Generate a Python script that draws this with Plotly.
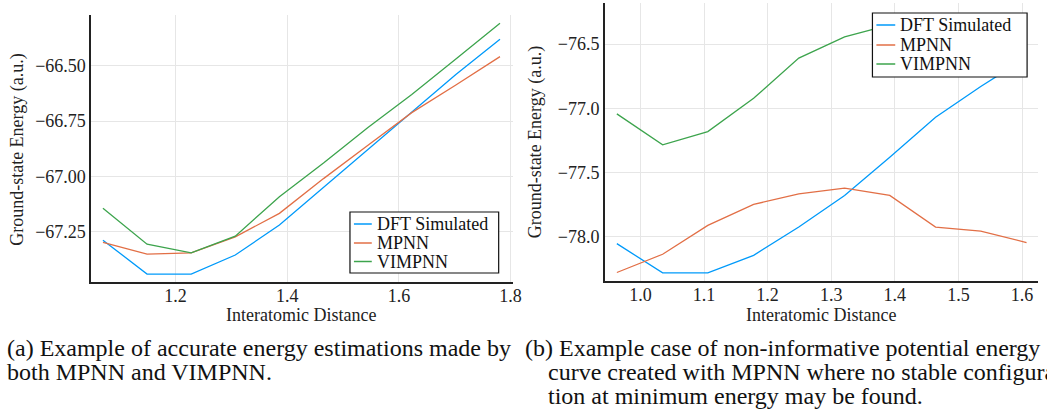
import plotly.graph_objects as go

# ---- data: panel (a) ----
xa = [1.070, 1.149, 1.228, 1.307, 1.386, 1.465, 1.544, 1.623, 1.702, 1.781]
dft_a = [-67.288, -67.441, -67.441, -67.355, -67.220, -67.050, -66.880, -66.710, -66.540, -66.381]
mpnn_a = [-67.298, -67.351, -67.345, -67.273, -67.167, -67.010, -66.860, -66.712, -66.587, -66.459]
vimpnn_a = [-67.144, -67.306, -67.345, -67.270, -67.092, -66.940, -66.780, -66.630, -66.470, -66.308]

# ---- data: panel (b) ----
xb = [0.963, 1.035, 1.106, 1.178, 1.249, 1.321, 1.392, 1.464, 1.535, 1.607]
dft_b = [-78.053, -78.281, -78.281, -78.144, -77.924, -77.678, -77.380, -77.070, -76.830, -76.604]
mpnn_b = [-78.278, -78.136, -77.911, -77.748, -77.665, -77.621, -77.678, -77.924, -77.955, -78.045]
vimpnn_b = [-77.043, -77.284, -77.181, -76.922, -76.609, -76.443, -76.350, -76.275, -76.270, -76.288]

series_names = ["DFT Simulated", "MPNN", "VIMPNN"]
colors = ["#009AFA", "#E26F46", "#3DA44D"]

ticks_a_x = [1.2, 1.4, 1.6, 1.8]
ticks_a_y = [-67.25, -67.00, -66.75, -66.50]
ticks_b_x = [1.0, 1.1, 1.2, 1.3, 1.4, 1.5, 1.6]
ticks_b_y = [-78.0, -77.5, -77.0, -76.5]

W, H = 1047, 410
FONT = "Liberation Serif, Times New Roman, Times, serif"

fig = go.Figure()
for name, col, ys in zip(series_names, colors, [dft_a, mpnn_a, vimpnn_a]):
    fig.add_trace(go.Scatter(x=xa, y=ys, mode="lines", name=name, showlegend=False,
                             line=dict(color=col, width=1.3),
                             xaxis="x", yaxis="y"))
for name, col, ys in zip(series_names, colors, [dft_b, mpnn_b, vimpnn_b]):
    fig.add_trace(go.Scatter(x=xb, y=ys, mode="lines", name=name, showlegend=False,
                             line=dict(color=col, width=1.3),
                             xaxis="x2", yaxis="y2"))

def px_x(p):
    return p / W

def px_y(p):
    return 1 - p / H

axis_common = dict(showline=True, linecolor="#222", linewidth=1.5,
                   showgrid=True, gridcolor="#e6e6e6", gridwidth=1,
                   zeroline=False, ticks="", mirror=False,
                   tickfont=dict(family=FONT, size=18, color="#222"))

fig.update_layout(
    width=W, height=H,
    margin=dict(l=0, r=0, t=0, b=0),
    paper_bgcolor="white", plot_bgcolor="white",
    font=dict(family=FONT, color="#111"),
    xaxis=dict(domain=[px_x(92), px_x(517)], range=[1.049, 1.8035],
               tickvals=ticks_a_x, ticktext=[f"{v:.1f}" for v in ticks_a_x],
               anchor="y", ticklabelstandoff=-3, **axis_common),
    yaxis=dict(domain=[px_y(282), px_y(15)], range=[-67.477, -66.271],
               tickvals=ticks_a_y, ticktext=[f"\u2212{abs(v):.2f}" for v in ticks_a_y],
               anchor="x", **axis_common),
    xaxis2=dict(domain=[px_x(610), 1.0], range=[0.944, 1.625],
                tickvals=ticks_b_x, ticktext=[f"{v:.1f}" for v in ticks_b_x],
                anchor="y2", ticklabelstandoff=-3, **axis_common),
    yaxis2=dict(domain=[px_y(281), px_y(3)], range=[-78.344, -76.18],
                tickvals=ticks_b_y, ticktext=[f"\u2212{abs(v):.1f}" for v in ticks_b_y],
                anchor="x2", **axis_common),
    showlegend=False,
)

shapes = []
ann = []

# manual legends (box, sample lines, labels), positioned in pixels
def add_legend(box, rows, line_x0, line_x1, text_x):
    x0, y0, x1, y1 = box
    shapes.append(dict(type="rect", xref="paper", yref="paper",
                       x0=px_x(x0), x1=px_x(x1), y0=px_y(y1), y1=px_y(y0),
                       line=dict(color="#111", width=1.2), fillcolor="white", layer="above"))
    for name, col, ry in zip(series_names, colors, rows):
        shapes.append(dict(type="line", xref="paper", yref="paper",
                           x0=px_x(line_x0), x1=px_x(line_x1), y0=px_y(ry), y1=px_y(ry),
                           line=dict(color=col, width=1.5), layer="above"))
        ann.append(dict(text=name, x=px_x(text_x), y=px_y(ry), xref="paper", yref="paper",
                        showarrow=False, xanchor="left", yanchor="middle",
                        font=dict(family=FONT, size=18, color="#111")))

add_legend((353, 212, 503, 273), [224, 243, 261.5], 357, 375, 378)
add_legend((880, 13, 1036, 77), [25, 45, 64], 884, 903, 906)

# axis titles
ann.append(dict(text="Interatomic Distance", x=px_x(304), y=px_y(315), xref="paper", yref="paper",
                showarrow=False, font=dict(family=FONT, size=18, color="#222"), xanchor="center", yanchor="middle"))
ann.append(dict(text="Interatomic Distance", x=px_x(828), y=px_y(315), xref="paper", yref="paper",
                showarrow=False, font=dict(family=FONT, size=18, color="#222"), xanchor="center", yanchor="middle"))
ann.append(dict(text="Ground-state Energy (a.u.)", x=px_x(17), y=px_y(149), xref="paper", yref="paper",
                showarrow=False, textangle=-90, font=dict(family=FONT, size=18, color="#222"),
                xanchor="center", yanchor="middle"))
ann.append(dict(text="Ground-state Energy (a.u.)", x=px_x(540), y=px_y(142), xref="paper", yref="paper",
                showarrow=False, textangle=-90, font=dict(family=FONT, size=18, color="#222"),
                xanchor="center", yanchor="middle"))
# captions
cap = dict(xref="paper", yref="paper", showarrow=False, xanchor="left", yanchor="middle",
           font=dict(family=FONT, size=24, color="#111"))
ann.append(dict(text="(a) Example of accurate energy estimations made by", x=px_x(5), y=px_y(348), **cap))
ann.append(dict(text="both MPNN and VIMPNN.", x=px_x(5), y=px_y(372), **cap))
ann.append(dict(text="(b) Example case of non-informative potential energy", x=px_x(528), y=px_y(348), **cap))
ann.append(dict(text="curve created with MPNN where no stable configura-", x=px_x(551), y=px_y(372), **cap))
ann.append(dict(text="tion at minimum energy may be found.", x=px_x(551), y=px_y(396), **cap))
fig.update_layout(annotations=ann, shapes=shapes)

fig.write_html("out.html")
